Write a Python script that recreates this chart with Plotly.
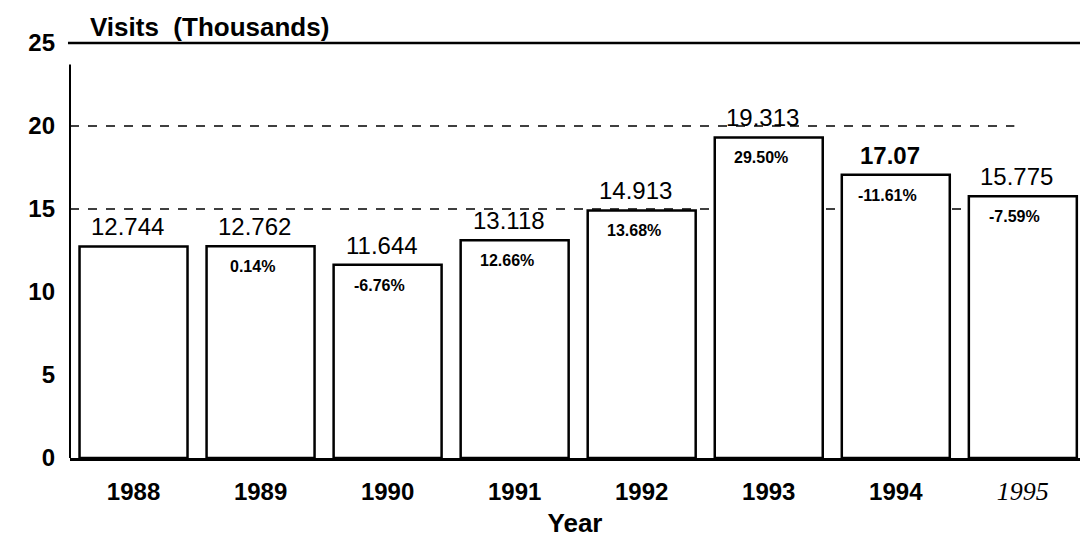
import plotly.graph_objects as go

years = ["1988", "1989", "1990", "1991", "1992", "1993", "1994", "1995"]
visits = [12.744, 12.762, 11.644, 13.118, 14.913, 19.313, 17.07, 15.775]
value_labels = ["12.744", "12.762", "11.644", "13.118", "14.913", "19.313", "17.07", "15.775"]
pct_labels = ["", "0.14%", "-6.76%", "12.66%", "13.68%", "29.50%", "-11.61%", "-7.59%"]
y_ticks = [0, 5, 10, 15, 20, 25]
dashed_levels = [15, 20]

tick_text = [y for y in years[:-1]] + [
    '<span style="font-family:Liberation Serif;font-weight:normal;font-style:italic;font-size:26px">%s</span>' % years[-1]
]

SANS = "Liberation Sans Narrow, Arial Narrow, Arial, Liberation Sans"

fig = go.Figure()
fig.add_trace(go.Bar(
    x=years, y=visits, width=0.85,
    marker=dict(color="white", line=dict(color="black", width=2.5)),
    hoverinfo="x+y",
))

for lvl in dashed_levels:
    fig.add_shape(type="line", xref="paper", x0=0, x1=0.935, yref="y", y0=lvl, y1=lvl,
                  line=dict(color="black", width=1.3, dash="dash"), layer="below")
fig.add_shape(type="line", xref="paper", x0=-0.002, x1=1, yref="paper", y0=1, y1=1,
              line=dict(color="black", width=2.5))
fig.add_shape(type="line", xref="paper", x0=0, x1=0, yref="y", y0=0, y1=23.7,
              line=dict(color="black", width=2))

for i, (v, vl, pl) in enumerate(zip(visits, value_labels, pct_labels)):
    txt = "<b>%s</b>" % vl if vl == "17.07" else vl
    fig.add_annotation(x=i, y=v, xref="x", yref="y", text=txt, showarrow=False,
                       yanchor="bottom", yshift=4, xshift=-6,
                       font=dict(family="Arial, Liberation Sans", size=24, color="black"))
    if pl:
        fig.add_annotation(x=i, y=v, xref="x", yref="y", text="<b>%s</b>" % pl, showarrow=False,
                           yanchor="top", yshift=-10, xshift=-8,
                           font=dict(family="Arial, Liberation Sans", size=16, color="black"))

fig.add_annotation(xref="paper", yref="paper", x=0.018, y=1.0, yanchor="bottom", xanchor="left",
                   yshift=-1, text="<b>Visits  (Thousands)</b>", showarrow=False,
                   font=dict(family=SANS, size=26, color="black"))

fig.update_layout(
    width=1080, height=548,
    margin=dict(l=70, r=0, t=43, b=90),
    paper_bgcolor="white", plot_bgcolor="white",
    showlegend=False,
    xaxis=dict(
        type="category",
        range=[-0.5, 7.45], tickmode="array", tickvals=years, ticktext=tick_text,
        showline=True, linecolor="black", linewidth=3, ticks="", showgrid=False,
        tickfont=dict(family=SANS, size=24, color="black", weight="bold"),
        ticklabelstandoff=10,
        title=dict(text="<b>Year</b>", font=dict(family=SANS, size=26, color="black"), standoff=10),
    ),
    yaxis=dict(
        range=[0, 25], tickvals=y_ticks, showgrid=False, zeroline=False,
        showline=False, ticks="",
        tickfont=dict(family=SANS, size=24, color="black", weight="bold"),
        ticklabelstandoff=14,
    ),
)

fig.write_html("out.html", config={"displayModeBar": False},
               post_script="document.body.style.margin='0';document.body.style.overflow='hidden';")
